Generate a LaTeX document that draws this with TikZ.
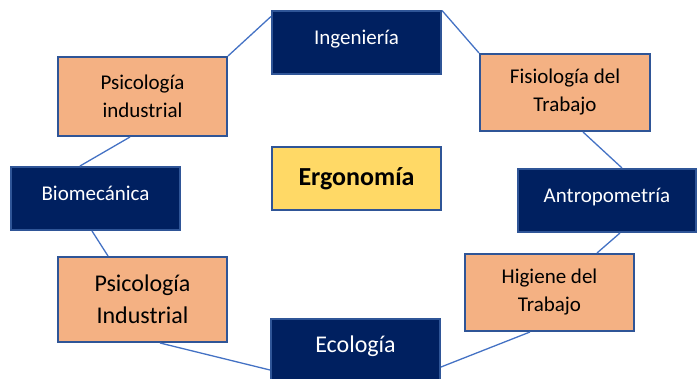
\documentclass[tikz,border=0pt]{standalone}
\usepackage{fontspec}
\setmainfont{Carlito}
\definecolor{navy}{HTML}{002060}
\definecolor{boxline}{HTML}{2F5597}
\definecolor{peach}{HTML}{F4B183}
\definecolor{gold}{HTML}{FFD966}
\definecolor{link}{HTML}{4472C4}
\begin{document}
\begin{tikzpicture}[x=0.5pt,y=-0.5pt,
  navybox/.style={draw=boxline,line width=1pt,fill=navy,text=white,inner sep=0pt,
    minimum width=84.5pt,minimum height=31.5pt,font=\fontsize{10.5}{12}\selectfont,
    text height=7.8pt,text depth=6pt},
  peachbox/.style={draw=boxline,line width=1pt,fill=peach,inner sep=0pt,align=center,
    minimum width=84.5pt,minimum height=38.5pt,font=\fontsize{10.5}{14}\selectfont},
  link/.style={draw=link,line width=0.65pt}]
\clip (0,0) rectangle (697,379);
\node[navybox] (ing) at (356.5,43) {Ingeniería};
\node[navybox,minimum width=89pt] (antro) at (607,200.5) {Antropometría};
\node[navybox] (bio) at (95.5,198.5) {Biomecánica};
\node[navybox,font=\fontsize{12}{14}\selectfont] (eco) at (355.5,351) {Ecología};
\node[draw=boxline,line width=1pt,fill=gold,minimum width=84.5pt,minimum height=31.5pt,
  font=\fontsize{13}{15}\selectfont\bfseries] (ergo) at (356.5,178.5) {Ergonomía};
\node[peachbox,minimum height=39.5pt] (psicA) at (142.5,96.5) {Psicología\\industrial};
\node[peachbox,minimum width=85pt] (fisio) at (565,92.5) {Fisiología del\\Trabajo};
\node[peachbox,minimum height=42.5pt,font=\fontsize{12}{16}\selectfont] (psicB) at (142.5,299.5) {Psicología\\Industrial};
\node[peachbox] (hig) at (549.5,292.5) {Higiene del\\Trabajo};
\draw[link] (psicA.north east) -- ([shift={(0,6)}]ing.north west);
\draw[link] ([shift={(-12.5,0)}]psicA.south) -- ([shift={(-15.5,0)}]bio.north);
\draw[link] ([shift={(-3.5,0)}]bio.south) -- ([shift={(-34.5,0)}]psicB.north);
\draw[link] ([shift={(17.5,0)}]psicB.south) -- ([shift={(0,19)}]eco.west);
\draw[link] (ing.north east) -- (fisio.north west);
\draw[link] ([shift={(18,0)}]fisio.south) -- ([shift={(15,0)}]antro.north);
\draw[link] ([shift={(13,0)}]antro.south) -- ([shift={(47.5,0)}]hig.north);
\draw[link] ([shift={(-19.5,0)}]hig.south) -- ([shift={(0,16)}]eco.east);
\end{tikzpicture}
\end{document}
